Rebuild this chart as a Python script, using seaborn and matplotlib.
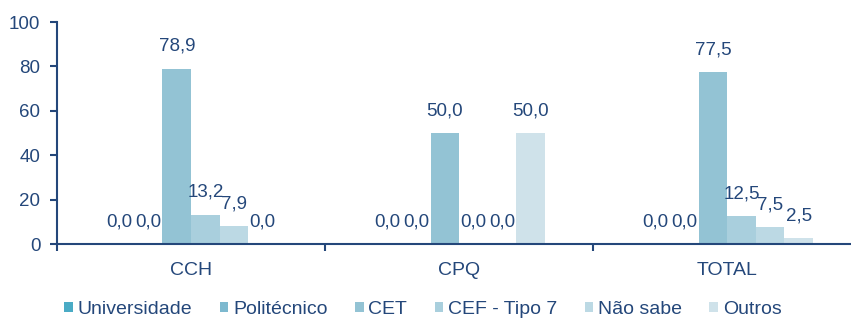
import matplotlib
matplotlib.use("Agg")
import matplotlib.pyplot as plt
import pandas as pd
import numpy as np
import seaborn as sns

grupos = ["CCH", "CPQ", "TOTAL"]
tipos = ["Universidade", "Politécnico", "CET", "CEF - Tipo 7", "Não sabe", "Outros"]
cch = [0.0, 0.0, 78.9, 13.2, 7.9, 0.0]
cpq = [0.0, 0.0, 50.0, 0.0, 0.0, 50.0]
total = [0.0, 0.0, 77.5, 12.5, 7.5, 2.5]
cores = ["#4aabc5", "#7db9cf", "#93c3d4", "#a9cfdd", "#bcd9e4", "#cfe2ea"]

navy = "#24477a"

df = pd.DataFrame({
    "grupo": np.repeat(grupos, len(tipos)),
    "tipo": tipos * len(grupos),
    "valor": cch + cpq + total,
})

sns.set_style("white")
plt.rcParams["font.family"] = ["Liberation Sans", "DejaVu Sans"]
plt.rcParams["font.size"] = 13.5

fig = plt.figure(figsize=(8.51, 3.18), dpi=100)
ax = fig.add_axes([0.067, 0.2327, 0.945, 0.698])

sns.barplot(data=df, x="grupo", y="valor", hue="tipo", hue_order=tipos,
            order=grupos, palette=cores, saturation=1, width=0.64,
            linewidth=0, ax=ax)

for cont in ax.containers:
    ax.bar_label(cont, fmt=lambda v: f"{v:.1f}".replace(".", ","),
                 padding=10, color=navy, fontsize=13.5)

ax.set_ylim(0, 100)
ax.set_yticks(range(0, 101, 20))
ax.set_xlim(-0.5, 2.5)
ax.set_xlabel("")
ax.set_ylabel("")

for s in ["top", "right"]:
    ax.spines[s].set_visible(False)
for s in ["left", "bottom"]:
    ax.spines[s].set_color(navy)
    ax.spines[s].set_linewidth(1.5)

ax.tick_params(axis="y", colors=navy, labelcolor=navy, direction="out",
               length=5, width=1.5, left=True, pad=7, labelsize=13.5)
ax.tick_params(axis="x", which="major", length=0, pad=13,
               labelcolor=navy, labelsize=14)
ax.set_xticks([-0.5, 0.5, 1.5, 2.5], minor=True)
ax.tick_params(axis="x", which="minor", direction="out", length=5,
               width=1.5, color=navy, bottom=True)

handles, labels = ax.get_legend_handles_labels()
ax.get_legend().remove()
leg = fig.legend(handles, labels, loc="lower center", ncol=6,
                 bbox_to_anchor=(0.497, -0.055), frameon=False,
                 handlelength=0.45, handleheight=0.45, handletextpad=0.25,
                 columnspacing=1.4, fontsize=14)
for t in leg.get_texts():
    t.set_color(navy)

fig.savefig("out.png", dpi=100)
